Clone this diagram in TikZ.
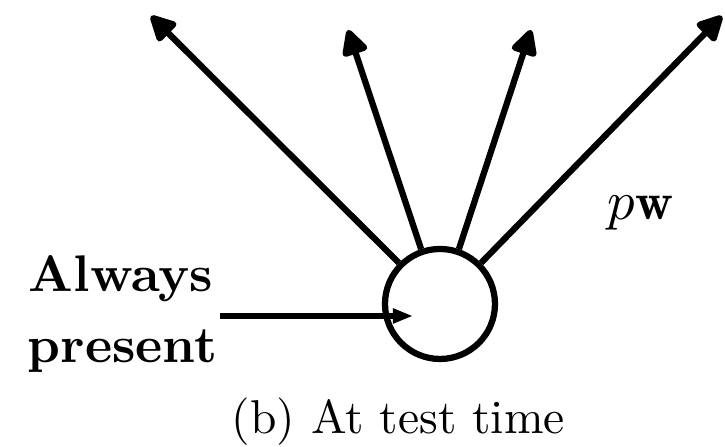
\documentclass[tikz,border=0pt]{standalone}
\usepackage{fontspec}
\usetikzlibrary{arrows.meta}
\begin{document}
\begin{tikzpicture}[x=0.2pt,y=-0.2pt,
  wire/.style={line width=1.25pt},
  outarrow/.style={wire,-{Triangle[round,length=5.8pt,width=5.6pt]}},
  inarrow/.style={wire,-{Triangle[length=4pt,width=2.8pt]}},
  unit/.style={circle,draw,line width=1.25pt,minimum size=110*0.2pt,inner sep=0pt},
  lbl/.style={inner sep=0pt,font=\fontsize{10.3}{12}\selectfont\bfseries},
  captiontext/.style={inner sep=0pt,font=\fontsize{9.5}{11}\selectfont}]
  \useasboundingbox (0,0) rectangle (725,447);

  % the unit and its outgoing weights
  \node[unit] (u) at (440,304) {};
  \coordinate (t1) at (151,16);
  \coordinate (t2) at (348,30);
  \coordinate (t3) at (531,30);
  \coordinate (t4) at (722,16);
  \draw[outarrow] (u.135) -- (t1);
  \draw[outarrow] (u.109) -- (t2);
  \draw[outarrow] (u.71)  -- (t3);
  \draw[outarrow] (u.45)  -- (t4);

  % input that is always present
  \coordinate (in0) at (220,316);
  \coordinate (in1) at (413,316);
  \draw[inarrow] (in0) -- (in1);

  \node[lbl,anchor=base west] (a1) at (28,292) {Always};
  \node[lbl,anchor=base west] (a2) at (27,363) {present};
  \node[inner sep=0pt,anchor=base west,font=\fontsize{10.5}{12}\selectfont] (w) at (607,220) {$p\mathbf{w}$};
  \node[captiontext,anchor=base west] (c) at (231,434) {(b) At test time};
\end{tikzpicture}
\end{document}
